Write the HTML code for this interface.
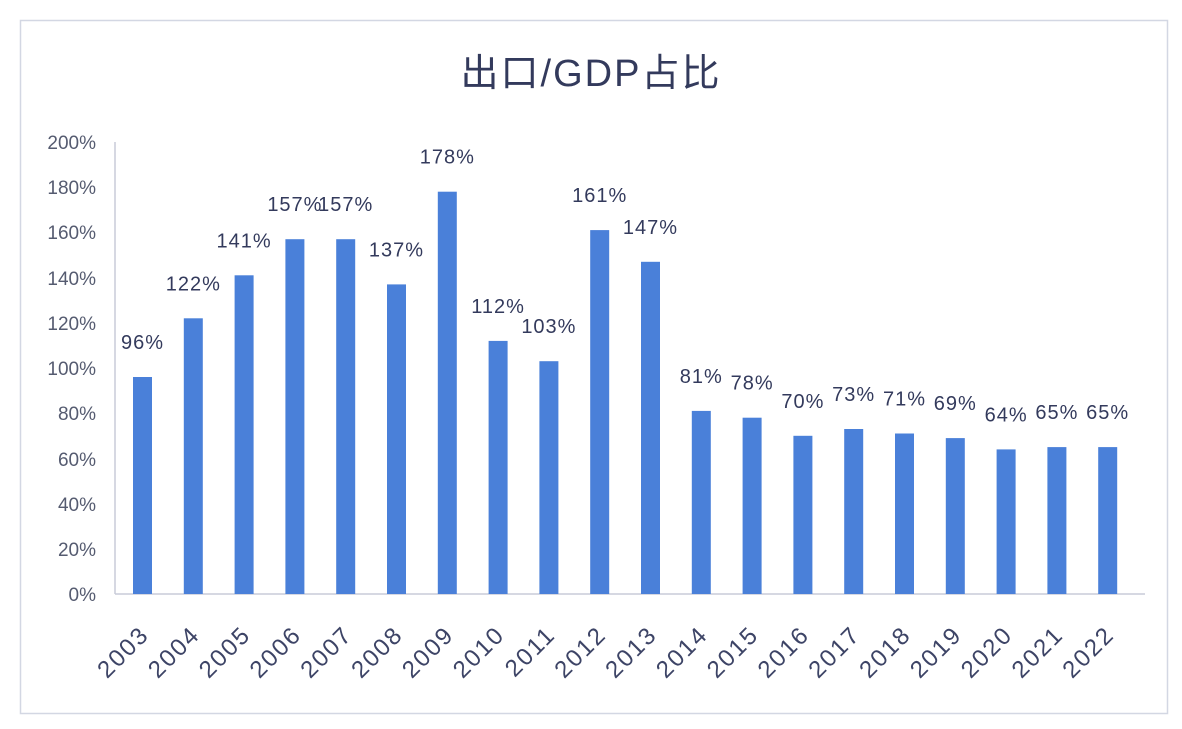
<!DOCTYPE html>
<html><head><meta charset="utf-8"><style>
body{margin:0;background:#fff;width:1182px;height:724px;overflow:hidden}
</style></head><body>
<svg width="1182" height="724" xmlns="http://www.w3.org/2000/svg" font-family="'Liberation Sans','Noto Sans CJK SC',sans-serif">
<rect x="0" y="0" width="1182" height="724" fill="#fff"/>
<rect x="20.5" y="20.5" width="1147" height="693" fill="#fff" stroke="#d3d7e3" stroke-width="1.5"/>
<text x="591" y="86" text-anchor="middle" font-size="38" letter-spacing="2" fill="#333a5c">出口/GDP占比</text>
<line x1="115" y1="142" x2="115" y2="594" stroke="#c8ccd8" stroke-width="1.5"/>
<line x1="115" y1="594" x2="1145" y2="594" stroke="#c8ccd8" stroke-width="1.5"/>
<g font-size="19" fill="#555b70" text-anchor="end">
<text x="96" y="601">0%</text><text x="96" y="556">20%</text><text x="96" y="511">40%</text><text x="96" y="466">60%</text><text x="96" y="420">80%</text><text x="96" y="375">100%</text><text x="96" y="330">120%</text><text x="96" y="285">140%</text><text x="96" y="239">160%</text><text x="96" y="194">180%</text><text x="96" y="149">200%</text>
</g>
<g fill="#4a80d9">
<rect x="133" y="377" width="19" height="217"/>
<rect x="183.8" y="318.3" width="19" height="275.7"/>
<rect x="234.6" y="275.3" width="19" height="318.7"/>
<rect x="285.4" y="239.2" width="19" height="354.8"/>
<rect x="336.2" y="239.2" width="19" height="354.8"/>
<rect x="387" y="284.4" width="19" height="309.6"/>
<rect x="437.8" y="191.7" width="19" height="402.3"/>
<rect x="488.6" y="340.9" width="19" height="253.1"/>
<rect x="539.4" y="361.2" width="19" height="232.8"/>
<rect x="590.2" y="230.1" width="19" height="363.9"/>
<rect x="641" y="261.8" width="19" height="332.2"/>
<rect x="691.8" y="410.9" width="19" height="183.1"/>
<rect x="742.6" y="417.7" width="19" height="176.3"/>
<rect x="793.4" y="435.8" width="19" height="158.2"/>
<rect x="844.2" y="429" width="19" height="165"/>
<rect x="895" y="433.5" width="19" height="160.5"/>
<rect x="945.8" y="438.1" width="19" height="155.9"/>
<rect x="996.6" y="449.4" width="19" height="144.6"/>
<rect x="1047.4" y="447.1" width="19" height="146.9"/>
<rect x="1098.2" y="447.1" width="19" height="146.9"/>
</g>
<g font-size="20" fill="#333a5c" text-anchor="middle" letter-spacing="1">
<text x="142.5" y="349">96%</text>
<text x="193.3" y="290.3">122%</text>
<text x="244.1" y="247.3">141%</text>
<text x="294.9" y="211.2">157%</text>
<text x="345.7" y="211.2">157%</text>
<text x="396.5" y="256.4">137%</text>
<text x="447.3" y="163.7">178%</text>
<text x="498.1" y="312.9">112%</text>
<text x="548.9" y="333.2">103%</text>
<text x="599.7" y="202.1">161%</text>
<text x="650.5" y="233.8">147%</text>
<text x="701.3" y="382.9">81%</text>
<text x="752.1" y="389.7">78%</text>
<text x="802.9" y="407.8">70%</text>
<text x="853.7" y="401">73%</text>
<text x="904.5" y="405.5">71%</text>
<text x="955.3" y="410.1">69%</text>
<text x="1006.1" y="421.4">64%</text>
<text x="1056.9" y="419.1">65%</text>
<text x="1107.7" y="419.1">65%</text>
</g>
<g font-size="24" letter-spacing="2" fill="#3d4466" text-anchor="end">
<text transform="translate(150.5,636) rotate(-45)">2003</text>
<text transform="translate(201.3,636) rotate(-45)">2004</text>
<text transform="translate(252.1,636) rotate(-45)">2005</text>
<text transform="translate(302.9,636) rotate(-45)">2006</text>
<text transform="translate(353.7,636) rotate(-45)">2007</text>
<text transform="translate(404.5,636) rotate(-45)">2008</text>
<text transform="translate(455.3,636) rotate(-45)">2009</text>
<text transform="translate(506.1,636) rotate(-45)">2010</text>
<text transform="translate(556.9,636) rotate(-45)">2011</text>
<text transform="translate(607.7,636) rotate(-45)">2012</text>
<text transform="translate(658.5,636) rotate(-45)">2013</text>
<text transform="translate(709.3,636) rotate(-45)">2014</text>
<text transform="translate(760.1,636) rotate(-45)">2015</text>
<text transform="translate(810.9,636) rotate(-45)">2016</text>
<text transform="translate(861.7,636) rotate(-45)">2017</text>
<text transform="translate(912.5,636) rotate(-45)">2018</text>
<text transform="translate(963.3,636) rotate(-45)">2019</text>
<text transform="translate(1014.1,636) rotate(-45)">2020</text>
<text transform="translate(1064.9,636) rotate(-45)">2021</text>
<text transform="translate(1115.7,636) rotate(-45)">2022</text>
</g>
</svg>
</body></html>
